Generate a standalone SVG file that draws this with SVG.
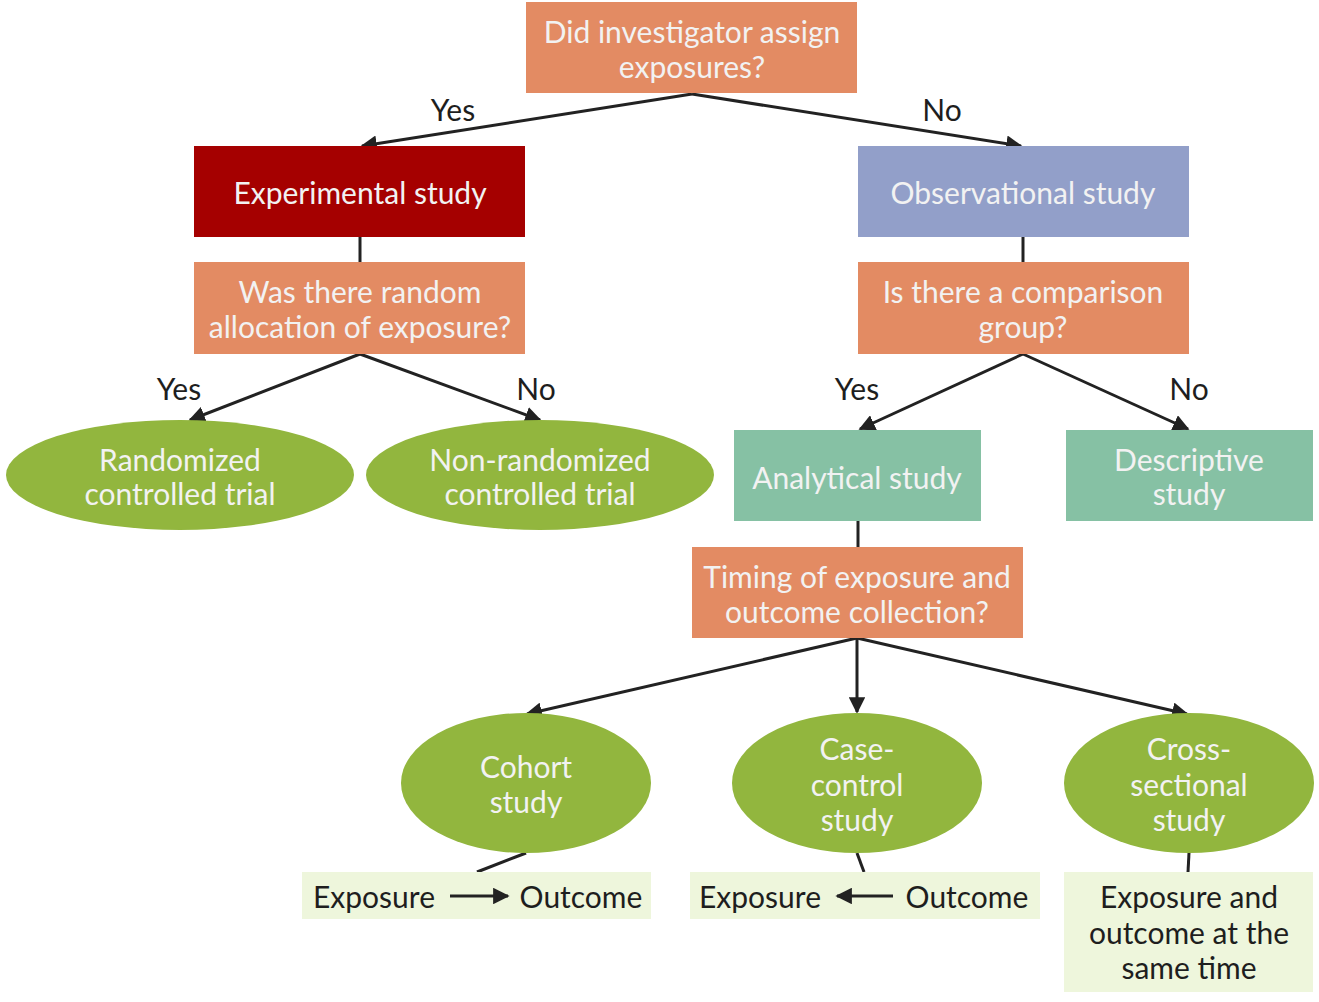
<svg xmlns="http://www.w3.org/2000/svg" width="1319" height="1002" viewBox="0 0 1319 1002">
<defs>
<marker id="ah" viewBox="0 0 10 10" refX="9" refY="5" markerWidth="5.5" markerHeight="5.5" orient="auto" markerUnits="strokeWidth">
<path d="M0,0 L10,5 L0,10 z" fill="#222"/>
</marker>
<style>
text{font-family:Lato,"Open Sans","Liberation Sans",sans-serif;font-size:30px;text-anchor:middle}
.w{fill:#F2F2F2}
.d{fill:#1e1e1e}
.q{fill:#E38B63}
.c{stroke:#222;stroke-width:3;fill:none}
.a{stroke:#222;stroke-width:3;fill:none;marker-end:url(#ah)}
.g{fill:#92B63E}
.t{fill:#86C1A4}
.l{fill:#EEF6DC}
</style>
</defs>
<rect width="1319" height="1002" fill="#fff"/>
<g id="connectors">
<line class="a" x1="692" y1="94" x2="362" y2="146"/>
<line class="a" x1="692" y1="94" x2="1021" y2="146"/>
<line class="c" x1="360" y1="237" x2="360" y2="262"/>
<line class="c" x1="1023" y1="237" x2="1023" y2="262"/>
<line class="a" x1="360" y1="354" x2="190" y2="420"/>
<line class="a" x1="360" y1="354" x2="540" y2="420"/>
<line class="a" x1="1023" y1="354" x2="860" y2="429"/>
<line class="a" x1="1023" y1="354" x2="1188" y2="429"/>
<line class="c" x1="858" y1="521" x2="858" y2="547"/>
<line class="a" x1="857" y1="638" x2="527" y2="714"/>
<line class="a" x1="857" y1="638" x2="857" y2="712"/>
<line class="a" x1="857" y1="638" x2="1187" y2="714"/>
<line class="c" x1="526" y1="853" x2="477" y2="872"/>
<line class="c" x1="857" y1="853" x2="864" y2="872"/>
<line class="c" x1="1189" y1="853" x2="1188" y2="872"/>
</g>
<g id="labels">
<text class="d" x="453" y="121">Yes</text>
<text class="d" x="942" y="121">No</text>
<text class="d" x="179" y="400">Yes</text>
<text class="d" x="536" y="400">No</text>
<text class="d" x="857" y="400">Yes</text>
<text class="d" x="1189" y="400">No</text>
</g>
<g id="n-assign">
<rect class="q" x="526" y="2" width="331" height="91"/>
<text class="w" x="692" y="43">Did investigator assign</text>
<text class="w" x="692" y="78">exposures?</text>
</g>
<g id="n-experimental">
<rect fill="#A50000" x="194" y="146" width="331" height="91"/>
<text class="w" x="360" y="204">Experimental study</text>
</g>
<g id="n-observational">
<rect fill="#929FC9" x="858" y="146" width="331" height="91"/>
<text class="w" x="1023" y="204">Observational study</text>
</g>
<g id="n-random">
<rect class="q" x="194" y="262" width="331" height="92"/>
<text class="w" x="360" y="303">Was there random</text>
<text class="w" x="360" y="338">allocation of exposure?</text>
</g>
<g id="n-comparison">
<rect class="q" x="858" y="262" width="331" height="92"/>
<text class="w" x="1023" y="303">Is there a comparison</text>
<text class="w" x="1023" y="338">group?</text>
</g>
<g id="n-rct">
<ellipse class="g" cx="180" cy="475" rx="174" ry="55"/>
<text class="w" x="180" y="471">Randomized</text>
<text class="w" x="180" y="505">controlled trial</text>
</g>
<g id="n-nrct">
<ellipse class="g" cx="540" cy="475" rx="174" ry="55"/>
<text class="w" x="540" y="471">Non-randomized</text>
<text class="w" x="540" y="505">controlled trial</text>
</g>
<g id="n-analytical">
<rect class="t" x="734" y="430" width="247" height="91"/>
<text class="w" x="857" y="489">Analytical study</text>
</g>
<g id="n-descriptive">
<rect class="t" x="1066" y="430" width="247" height="91"/>
<text class="w" x="1189" y="471">Descriptive</text>
<text class="w" x="1189" y="505">study</text>
</g>
<g id="n-timing">
<rect class="q" x="692" y="547" width="331" height="91"/>
<text class="w" x="857" y="588">Timing of exposure and</text>
<text class="w" x="857" y="623">outcome collection?</text>
</g>
<g id="n-cohort">
<ellipse class="g" cx="526" cy="783" rx="125" ry="70"/>
<text class="w" x="526" y="778">Cohort</text>
<text class="w" x="526" y="813">study</text>
</g>
<g id="n-casecontrol">
<ellipse class="g" cx="857" cy="783" rx="125" ry="70"/>
<text class="w" x="857" y="760">Case-</text>
<text class="w" x="857" y="796">control</text>
<text class="w" x="857" y="831">study</text>
</g>
<g id="n-cross">
<ellipse class="g" cx="1189" cy="783" rx="125" ry="70"/>
<text class="w" x="1189" y="760">Cross-</text>
<text class="w" x="1189" y="796">sectional</text>
<text class="w" x="1189" y="831">study</text>
</g>
<g id="n-cohort-time">
<rect class="l" x="302" y="872" width="349" height="47"/>
<text class="d" x="374" y="908">Exposure</text>
<line class="a" x1="450" y1="896" x2="508" y2="896"/>
<text class="d" x="581" y="908">Outcome</text>
</g>
<g id="n-case-time">
<rect class="l" x="690" y="872" width="350" height="47"/>
<text class="d" x="760" y="908">Exposure</text>
<line class="a" x1="893" y1="896" x2="837" y2="896"/>
<text class="d" x="967" y="908">Outcome</text>
</g>
<g id="n-cross-time">
<rect class="l" x="1064" y="872" width="249" height="120"/>
<text class="d" x="1189" y="908">Exposure and</text>
<text class="d" x="1189" y="944">outcome at the</text>
<text class="d" x="1189" y="979">same time</text>
</g>
</svg>
